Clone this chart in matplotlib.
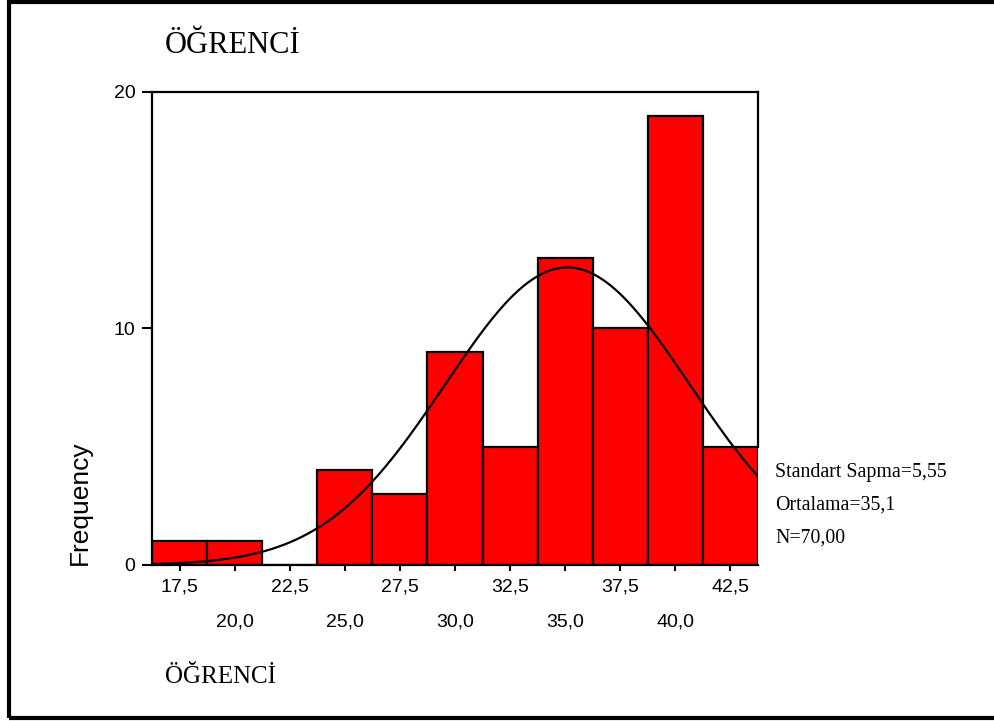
import numpy as np
import matplotlib.pyplot as plt
from matplotlib.patches import Rectangle

# histogram data (bin centers and counts)
centers = [17.5, 20.0, 22.5, 25.0, 27.5, 30.0, 32.5, 35.0, 37.5, 40.0, 42.5]
counts = [1, 1, 0, 4, 3, 9, 5, 13, 10, 19, 5]
major_labels = ['17,5', '22,5', '27,5', '32,5', '37,5', '42,5']
minor_labels = ['20,0', '25,0', '30,0', '35,0', '40,0']

std_dev = 5.55
mean = 35.1
n = 70
width = 2.5

serif = 'Liberation Serif'
sans = 'Liberation Sans'

fig = plt.figure(figsize=(9.95, 7.21), dpi=100)
ax = fig.add_axes([0.1528, 0.2164, 0.609, 0.656])

ax.bar(centers, counts, width=width, color='#ff0000', edgecolor='black', linewidth=1.6)

# normal curve
xs = np.linspace(centers[0] - width / 2, centers[-1] + width / 2, 400)
ys = n * width / (std_dev * np.sqrt(2 * np.pi)) * np.exp(-0.5 * ((xs - mean) / std_dev) ** 2)
ax.plot(xs, ys, color='black', linewidth=1.6)

ax.set_xlim(centers[0] - width / 2, centers[-1] + width / 2)
ax.set_ylim(0, 20)

for s in ax.spines.values():
    s.set_linewidth(1.6)
ax.spines['right'].set_bounds(counts[-1], 20)

ax.set_yticks([0, 10, 20])
ax.set_yticklabels(['0', '10', '20'], fontfamily=sans, fontsize=14)
ax.tick_params(axis='y', length=7, width=1.5, pad=5)

ax.set_xticks(centers[0::2])
ax.set_xticklabels(major_labels, fontfamily=sans, fontsize=14)
ax.set_xticks(centers[1::2], minor=True)
ax.set_xticklabels(minor_labels, minor=True, fontfamily=sans, fontsize=14)
ax.tick_params(axis='x', which='major', length=4, width=1.5, pad=6)
ax.tick_params(axis='x', which='minor', length=4, width=1.5, pad=31)

ax.set_ylabel('Frequency', fontfamily=sans, fontsize=19, loc='bottom', labelpad=16)

fig.text(0.166, 0.937, 'ÖĞRENCİ', fontfamily=serif, fontsize=22, va='center', ha='left')
fig.text(0.166, 0.061, 'ÖĞRENCİ', fontfamily=serif, fontsize=18, va='center', ha='left')

stats = ['Standart Sapma=5,55', 'Ortalama=35,1', 'N=70,00']
for i, t in enumerate(stats):
    fig.text(0.779, 1 - (472 + 33 * i) / 721, t, fontfamily=serif, fontsize=14.3, va='center', ha='left')

# outer frame
fig.patches.append(Rectangle((0.0095, 0.0042), 1.1, 0.9937, transform=fig.transFigure,
                             fill=False, edgecolor='black', linewidth=3, clip_on=False))

fig.savefig('out.png', dpi=100)
